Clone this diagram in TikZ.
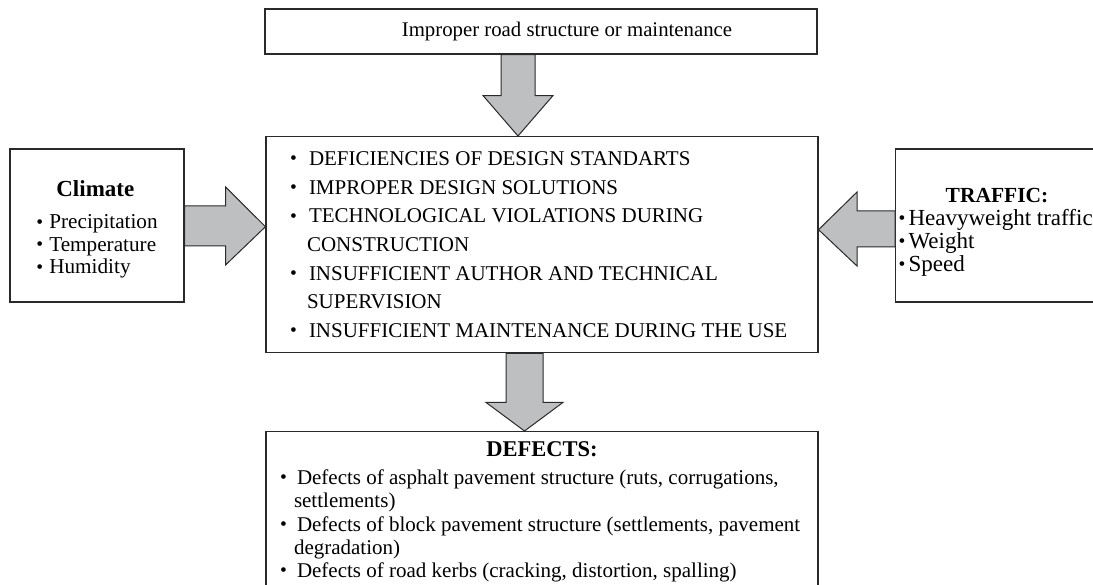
\documentclass[tikz,border=0pt]{standalone}
\usepackage{fontspec}
\setmainfont{Liberation Serif}
\usetikzlibrary{calc}
\definecolor{arrowfill}{HTML}{BEBFC1}
\definecolor{lineclr}{HTML}{2A2A2A}
\newcommand\bul{\raisebox{0.8pt}{\fontsize{19.5}{19.5}\selectfont\textbullet}}
\newcommand\itm[2]{\hspace*{#1}\makebox[#2][l]{\bul}}
\newcommand\normspace{\spaceskip=0pt\xspaceskip=0pt\relax}
\tikzset{
  box/.style={draw=lineclr, line width=1.1pt, rectangle, fill=white},
  blockarrow/.style={draw=lineclr, fill=arrowfill, line width=1pt, line join=miter},
  bodyfont/.style 2 args={font={\fontsize{#1}{#2}\selectfont}}
}
\begin{document}
\begin{tikzpicture}[x=1pt,y=-1pt]
\clip (0,0) rectangle (1093,585);
\fill[white] (0,0) rectangle (1093,585);

% boxes
\node[box, minimum width=552pt, minimum height=45pt, inner sep=0pt, bodyfont={20.8}{24}] (cause) at (541,31.5)
  {\hspace*{52pt}Improper road structure or maintenance};

\node[box, anchor=north, text width=552pt, inner xsep=0pt, inner ysep=15pt, align=flush left, bodyfont={21}{28.7}] (mid) at (542,136)
  {\normspace\itm{24pt}{19pt}DEFICIENCIES OF DESIGN STANDARTS\\
   \itm{24pt}{19pt}IMPROPER DESIGN SOLUTIONS\\
   \itm{24pt}{19pt}TECHNOLOGICAL VIOLATIONS DURING\\
   \hspace*{41pt}CONSTRUCTION\\
   \itm{24pt}{19pt}INSUFFICIENT AUTHOR AND TECHNICAL\\
   \hspace*{41pt}SUPERVISION\\
   \itm{24pt}{19pt}\mbox{INSUFFICIENT MAINTENANCE DURING THE USE}};

\node[box, minimum width=174pt, minimum height=153pt, inner sep=0pt, bodyfont={21.2}{22.5}] (climate) at (97,225.5)
  {\begin{tabular}{@{}l@{}}
   \rule{0pt}{26pt}\makebox[118pt]{\bfseries\fontsize{23}{22.5}\selectfont Climate}\\[10pt]
   \makebox[13pt][l]{\bul}Precipitation\\
   \makebox[13pt][l]{\bul}Temperature\\
   \makebox[13pt][l]{\bul}Humidity
   \end{tabular}};

\node[box, anchor=west, minimum width=203pt, minimum height=153pt, inner xsep=2pt, inner ysep=0pt, bodyfont={23}{22.8}] (traffic) at (895,225.5)
  {\begin{tabular}{@{}l@{}}
   \rule{0pt}{30pt}\makebox[199pt]{\bfseries\fontsize{21.5}{22.5}\selectfont TRAFFIC:}\\
   \hspace*{1pt}\makebox[10pt][l]{\bul}Heavyweight traffic\\
   \hspace*{1pt}\makebox[10pt][l]{\bul}Weight\\
   \hspace*{1pt}\makebox[10pt][l]{\bul}Speed
   \end{tabular}};

\node[box, anchor=north, text width=552pt, inner xsep=0pt, inner ysep=10pt, align=flush left, bodyfont={21}{23.3}] (defects) at (542,431)
  {\normspace\makebox[552pt]{\bfseries\fontsize{22.5}{23.3}\selectfont DEFECTS:}\\[4.7pt]
   \itm{14pt}{17pt}\mbox{Defects of asphalt pavement structure (ruts, corrugations,}\\
   \hspace*{28pt}settlements)\\
   \itm{14pt}{17pt}\mbox{Defects of block pavement structure (settlements, pavement}\\
   \hspace*{28pt}degradation)\\
   \itm{14pt}{17pt}\mbox{Defects of road kerbs (cracking, distortion, spalling)}};

% block arrows
\coordinate (aS) at ($(cause.south)+(-23,0)$);
\coordinate (aT) at ($(mid.north)+(-24,0)$);
\draw[blockarrow] ($(aS)+(-17,0)$) -- ($(aS)+(-17,41)$) -- ($(aS)+(-35,41)$) -- (aT)
  -- ($(aS)+(35,41)$) -- ($(aS)+(17,41)$) -- ($(aS)+(17,0)$) -- cycle;

\coordinate (bS) at ($(climate.east)+(0,0.5)$);
\coordinate (bT) at ($(mid.west)+(0,-18)$);
\draw[blockarrow] ($(bS)+(0,-20)$) -- ($(bS)+(41,-20)$) -- ($(bS)+(41,-39)$) -- (bT)
  -- ($(bS)+(41,39)$) -- ($(bS)+(41,20)$) -- ($(bS)+(0,20)$) -- cycle;

\coordinate (cS) at ($(traffic.west)+(0,3.5)$);
\coordinate (cT) at ($(mid.east)+(0,-15)$);
\draw[blockarrow] ($(cS)+(0,-18)$) -- ($(cS)+(-38,-18)$) -- ($(cS)+(-38,-37)$) -- (cT)
  -- ($(cS)+(-38,37)$) -- ($(cS)+(-38,18)$) -- ($(cS)+(0,18)$) -- cycle;

\coordinate (dS) at ($(mid.south)+(-17.5,0)$);
\coordinate (dT) at ($(defects.north)+(-17.5,0)$);
\draw[blockarrow] ($(dS)+(-18.5,0)$) -- ($(dS)+(-18.5,49)$) -- ($(dS)+(-38.5,49)$) -- (dT)
  -- ($(dS)+(38.5,49)$) -- ($(dS)+(18.5,49)$) -- ($(dS)+(18.5,0)$) -- cycle;
\end{tikzpicture}
\end{document}
